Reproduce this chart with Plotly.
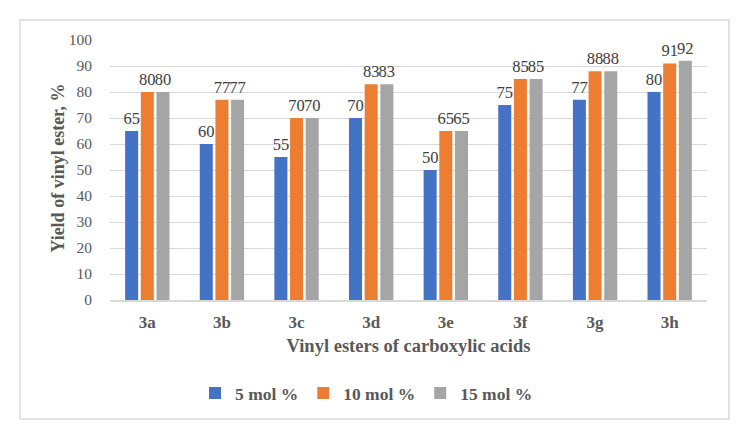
import plotly.graph_objects as go

categories = ["3a", "3b", "3c", "3d", "3e", "3f", "3g", "3h"]
series_names = ["5 mol %", "10 mol %", "15 mol %"]
yield_5 = [65, 60, 55, 70, 50, 75, 77, 80]
yield_10 = [80, 77, 70, 83, 65, 85, 88, 91]
yield_15 = [80, 77, 70, 83, 65, 85, 88, 92]
colors = ["#4472C4", "#ED7D31", "#A5A5A5"]

FONT = "Liberation Serif, Times New Roman, serif"

fig = go.Figure()
for name, vals, col in zip(series_names, [yield_5, yield_10, yield_15], colors):
    fig.add_trace(go.Bar(
        x=categories, y=vals, name=name,
        marker=dict(color=col, line=dict(width=0)),
        text=[str(v) for v in vals], textposition="outside",
        textfont=dict(family=FONT, size=16.5, color="#404040"),
        constraintext="none", cliponaxis=False,
    ))

fig.update_layout(
    width=745, height=434,
    margin=dict(l=110, r=38, t=40, b=134),
    paper_bgcolor="white", plot_bgcolor="white",
    barmode="group", bargap=0.37, bargroupgap=0.17,
    font=dict(family=FONT, color="#595959"),
    showlegend=True,
    legend=dict(orientation="h", xref="container", yref="container",
                x=0.492, xanchor="center", y=0.094, yanchor="middle",
                font=dict(family=FONT, size=17.5, color="#595959", weight="bold"),
                itemwidth=30, traceorder="normal"),
    shapes=[dict(type="rect", xref="paper", yref="paper",
                 x0=-90/597, x1=619/597, y0=-119/260, y1=280/260,
                 line=dict(color="#D9D9D9", width=1.5), fillcolor="rgba(0,0,0,0)", layer="below")],
    annotations=[dict(text="<b>Yield of vinyl ester, %</b>", textangle=-90,
                      xref="paper", yref="paper", x=-52/597, y=0.505,
                      xanchor="center", yanchor="middle", showarrow=False,
                      font=dict(family=FONT, size=18, color="#595959"))],
)
fig.update_xaxes(
    showline=True, linecolor="#D9D9D9", linewidth=1.5,
    tickfont=dict(family=FONT, size=17, color="#595959", weight="bold"),
    ticks="outside", ticklen=6, tickcolor="white",
    title=dict(text="Vinyl esters of carboxylic acids",
               font=dict(family=FONT, size=18.5, color="#595959", weight="bold"),
               standoff=8),
)
fig.update_yaxes(
    range=[0, 100], dtick=10, showgrid=True, gridcolor="#D9D9D9", gridwidth=1,
    zeroline=False, showline=False,
    tickfont=dict(family=FONT, size=15.5, color="#595959"),
    ticks="outside", ticklen=14, tickcolor="white",
)

fig.write_html("out.html")
